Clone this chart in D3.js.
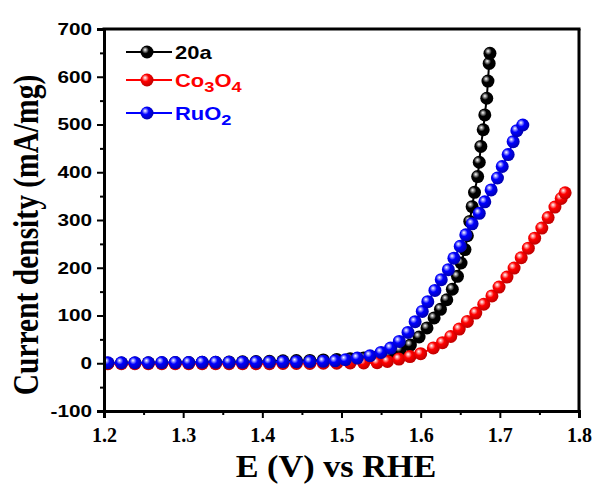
<!DOCTYPE html>
<html>
<head>
<meta charset="utf-8">
<script src="https://cdn.jsdelivr.net/npm/d3@7"></script>
<style>
  body { margin: 0; background: #fff; }
  svg { display: block; }
</style>
</head>
<body>
<svg width="595" height="485"></svg>
<script>
// series: potential E (V vs RHE) and current density (mA/mg)
var e20a = [1.205, 1.222, 1.239, 1.256, 1.273, 1.290, 1.307, 1.324, 1.341, 1.358, 1.375, 1.392, 1.409, 1.426, 1.443, 1.460, 1.477, 1.494, 1.511, 1.528, 1.545, 1.560, 1.574, 1.587, 1.598, 1.608, 1.617, 1.625, 1.633, 1.640, 1.6465, 1.651, 1.656, 1.659, 1.662, 1.665, 1.668, 1.672, 1.674, 1.676, 1.679, 1.681, 1.6835, 1.685, 1.6865, 1.6875];
var j20a = [0, 0.5, 0.5, 1, 1, 1.5, 1.5, 2, 2, 2.5, 3, 3.5, 4, 5, 5.5, 6, 7, 8, 9.5, 11, 13, 18, 27, 38, 55, 74, 95, 113, 133, 155, 182, 210, 238, 267, 297, 328, 358, 391, 421, 454, 489, 520, 555, 591, 628, 649];

var eCo = [1.205, 1.222, 1.239, 1.256, 1.273, 1.290, 1.307, 1.324, 1.341, 1.358, 1.375, 1.392, 1.409, 1.426, 1.443, 1.460, 1.477, 1.494, 1.511, 1.528, 1.545, 1.558, 1.5725, 1.5865, 1.600, 1.616, 1.6275, 1.638, 1.6487, 1.659, 1.6696, 1.6797, 1.690, 1.699, 1.709, 1.718, 1.727, 1.736, 1.744, 1.753, 1.761, 1.7696, 1.7775, 1.7825];
var jCo = [-1, -1, -1, -1, -1, -1, -1, -1, -1, -1, -1, -1, -1, -0.5, -0.5, -0.5, 0, 0, 0.5, 0.5, 1, 3.8, 8.8, 14, 20, 32, 43, 56, 71.6, 87.5, 105, 123.6, 141, 159.6, 180.5, 199.4, 221, 241, 262, 283, 305, 327, 345, 357];

var eRu = [1.205, 1.222, 1.239, 1.256, 1.273, 1.290, 1.307, 1.324, 1.341, 1.358, 1.375, 1.392, 1.409, 1.426, 1.443, 1.460, 1.477, 1.492, 1.505, 1.520, 1.536, 1.550, 1.562, 1.573, 1.584, 1.593, 1.602, 1.609, 1.618, 1.626, 1.635, 1.642, 1.650, 1.657, 1.665, 1.674, 1.681, 1.689, 1.697, 1.703, 1.7105, 1.7168, 1.7215, 1.729];
var jRu = [1, 1, 1, 1, 1.5, 1.5, 1.5, 2, 2, 2, 2, 2.5, 2.5, 3, 3, 3.5, 4, 5, 7.3, 10.9, 15.7, 22.6, 31.8, 45.7, 64.5, 87, 108.5, 129, 152.5, 175, 196, 220, 245, 269, 292, 314, 338, 363, 388, 412, 437, 464, 487, 499];

var xTicks = [1.2, 1.3, 1.4, 1.5, 1.6, 1.7, 1.8];
var xMinor = [1.25, 1.35, 1.45, 1.55, 1.65, 1.75];
var yTicks = [-100, 0, 100, 200, 300, 400, 500, 600, 700];
var yMinor = [-50, 50, 150, 250, 350, 450, 550, 650];

var series = [
  { name: "20a", color: "#000000", light: "#9a9a9a", dark: "#000000", e: e20a, j: j20a },
  { name: "Co3O4", color: "#ff0000", light: "#ff9a9a", dark: "#c00000", e: eCo, j: jCo },
  { name: "RuO2", color: "#0000ff", light: "#9a9aff", dark: "#0000b0", e: eRu, j: jRu }
];

var svg = d3.select("svg"),
    pLeft = 104, pRight = 579, pTop = 29, pBottom = 411,
    r = 6.5,
    stretch = 1.22;   // the original figure is a bit wider than tall

var x = d3.scaleLinear().domain([1.2, 1.8]).range([pLeft, pRight]);
var y = d3.scaleLinear().domain([-100, 700]).range([pBottom, pTop]);

// sphere look for the markers
var defs = svg.append("defs");
series.forEach(function(s, i) {
  var g = defs.append("radialGradient")
      .attr("id", "ball" + i)
      .attr("cx", "40%").attr("cy", "40%").attr("r", "60%")
      .attr("fx", "35%").attr("fy", "32%");
  g.append("stop").attr("offset", "0%").attr("stop-color", "#ffffff");
  g.append("stop").attr("offset", "18%").attr("stop-color", s.light);
  g.append("stop").attr("offset", "45%").attr("stop-color", s.color);
  g.append("stop").attr("offset", "100%").attr("stop-color", s.dark);
});

defs.append("clipPath").attr("id", "plot")
  .append("rect").attr("x", pLeft).attr("y", pTop - 10)
  .attr("width", pRight - pLeft + 10).attr("height", pBottom - pTop + 10);

var plot = svg.append("g").attr("clip-path", "url(#plot)");

var line = d3.line()
    .x(function(d) { return x(d[0]); })
    .y(function(d) { return y(d[1]); });

series.forEach(function(s, i) {
  var pts = s.e.map(function(v, k) { return [v, s.j[k]]; });
  var g = plot.append("g");
  g.append("path")
    .datum(pts)
    .attr("d", line)
    .attr("fill", "none")
    .attr("stroke", s.color)
    .attr("stroke-width", 2);
  g.selectAll("circle")
    .data(pts)
    .enter().append("circle")
    .attr("cx", function(d) { return x(d[0]); })
    .attr("cy", function(d) { return y(d[1]); })
    .attr("r", r)
    .attr("fill", "url(#ball" + i + ")");
});

// axes
var xAxis = svg.append("g")
    .attr("transform", "translate(0," + pBottom + ")")
    .call(d3.axisBottom(x).tickValues(xTicks).tickFormat(d3.format(".1f")).tickSize(7).tickPadding(10));
xAxis.selectAll("text")
    .attr("font-family", "'Liberation Serif', 'Times New Roman', serif")
    .attr("font-weight", "bold")
    .attr("font-size", 20)
    .attr("fill", "#000");

svg.append("g")
    .attr("transform", "translate(0," + pBottom + ")")
    .call(d3.axisBottom(x).tickValues(xMinor).tickFormat("").tickSize(4))
    .select(".domain").remove();

var yAxis = svg.append("g")
    .attr("transform", "translate(" + pLeft + ",0)")
    .call(d3.axisLeft(y).tickValues(yTicks).tickFormat(function(d) { return String(d); }).tickSize(7));
yAxis.selectAll("text")
    .attr("x", -12 / stretch)
    .attr("transform", "scale(" + stretch + ",1)")
    .attr("font-family", "'Liberation Sans', Arial, sans-serif")
    .attr("font-weight", "bold")
    .attr("font-size", 17)
    .attr("fill", "#000");

svg.append("g")
    .attr("transform", "translate(" + pLeft + ",0)")
    .call(d3.axisLeft(y).tickValues(yMinor).tickFormat("").tickSize(4))
    .select(".domain").remove();

svg.selectAll(".domain").attr("stroke-width", 3);
svg.selectAll(".tick line").attr("stroke-width", 2);

// frame top and right
svg.append("line").attr("x1", pLeft - 1.5).attr("x2", pRight + 1.5).attr("y1", pTop).attr("y2", pTop)
  .attr("stroke", "#000").attr("stroke-width", 3);
svg.append("line").attr("x1", pRight).attr("x2", pRight).attr("y1", pTop).attr("y2", pBottom + 1.5)
  .attr("stroke", "#000").attr("stroke-width", 3);

// axis titles
svg.append("text")
    .attr("transform", "translate(336,477) scale(1.07,1)")
    .attr("text-anchor", "middle")
    .attr("font-family", "'Liberation Serif', 'Times New Roman', serif")
    .attr("font-weight", "bold")
    .attr("font-size", 32)
    .text("E (V) vs RHE");

svg.append("text")
    .attr("transform", "translate(38,235) scale(" + stretch + ",1) rotate(-90)")
    .attr("text-anchor", "middle")
    .attr("font-family", "'Liberation Serif', 'Times New Roman', serif")
    .attr("font-weight", "bold")
    .attr("font-size", 29.5)
    .text("Current density (mA/mg)");

// legend
var legendY = [52, 80, 113];
var legend = svg.append("g");
series.forEach(function(s, i) {
  var g = legend.append("g").attr("transform", "translate(0," + legendY[i] + ")");
  g.append("line").attr("x1", 126).attr("x2", 172).attr("y1", 0).attr("y2", 0)
    .attr("stroke", s.color).attr("stroke-width", 2);
  g.append("circle").attr("cx", 147).attr("cy", 0).attr("r", r)
    .attr("fill", "url(#ball" + i + ")");
  var t = g.append("text")
    .attr("transform", "translate(175,6.5) scale(" + stretch + ",1)")
    .attr("font-family", "'Liberation Sans', Arial, sans-serif")
    .attr("font-weight", "bold")
    .attr("font-size", 18)
    .attr("fill", s.color);
  if (s.name === "Co3O4") {
    t.append("tspan").text("Co");
    t.append("tspan").attr("font-size", 15).attr("dy", 5).text("3");
    t.append("tspan").attr("dy", -5).text("O");
    t.append("tspan").attr("font-size", 15).attr("dy", 5).text("4");
  } else if (s.name === "RuO2") {
    t.append("tspan").text("RuO");
    t.append("tspan").attr("font-size", 15).attr("dy", 5).text("2");
  } else {
    t.text(s.name);
  }
});
</script>
</body>
</html>
